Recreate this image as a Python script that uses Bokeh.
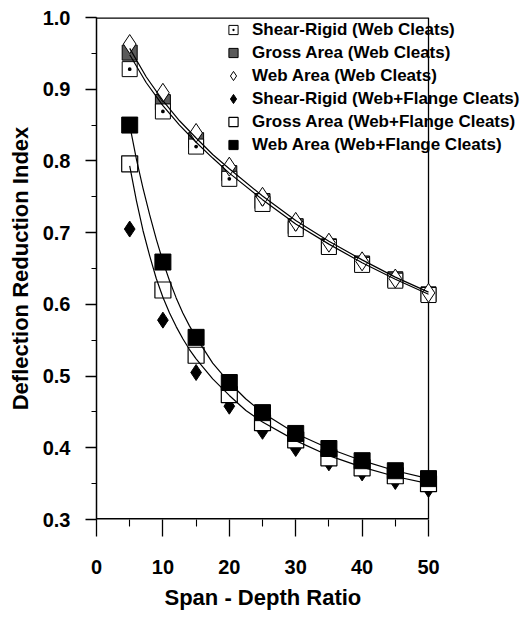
from bokeh.plotting import figure
from bokeh.models import (Legend, LegendItem, SingleIntervalTicker, FixedTicker,
                          NumeralTickFormatter, Range1d, Title)
from bokeh.embed import file_html
from bokeh.resources import INLINE

# ---- data ----
span_ratio = [5, 10, 15, 20, 25, 30, 35, 40, 45, 50]

shear_rigid_web = [0.928, 0.869, 0.820, 0.775, 0.740, 0.705, 0.680, 0.655, 0.633, 0.613]
gross_area_web = [0.951, 0.882, 0.829, 0.783, 0.744, 0.709, 0.681, 0.657, 0.635, 0.614]
web_area_web = [0.963, 0.895, 0.839, 0.792, 0.750, 0.715, 0.686, 0.660, 0.636, 0.616]

shear_rigid_wf = [0.705, 0.578, 0.505, 0.458, 0.423, 0.399, 0.379, 0.365, 0.353, 0.342]
gross_area_wf = [0.796, 0.620, 0.529, 0.474, 0.435, 0.411, 0.386, 0.372, 0.361, 0.350]
web_area_wf = [0.850, 0.659, 0.554, 0.491, 0.449, 0.420, 0.399, 0.382, 0.368, 0.357]

# fitted curves
fit_upper_x = [5, 7.5, 10, 12.5, 15, 17.5, 20, 25, 30, 35, 40, 45, 50]
fit_upper_a = [0.957, 0.917, 0.884, 0.856, 0.832, 0.809, 0.789, 0.751, 0.717, 0.688, 0.662, 0.638, 0.617]
fit_upper_b = [0.948, 0.909, 0.877, 0.850, 0.826, 0.804, 0.783, 0.746, 0.712, 0.684, 0.658, 0.635, 0.614]

fit_lower_x = [5, 6, 7, 8, 9, 10, 11, 12, 13, 14, 15, 17.5, 20, 22.5, 25, 30, 35, 40, 45, 50]
fit_web_wf = [0.850, 0.803, 0.762, 0.725, 0.691, 0.660, 0.633, 0.609, 0.588, 0.570, 0.554,
              0.518, 0.491, 0.468, 0.449, 0.420, 0.399, 0.382, 0.368, 0.357]
fit_gross_wf = [0.793, 0.745, 0.703, 0.668, 0.636, 0.610, 0.588, 0.569, 0.552, 0.537, 0.524,
                0.496, 0.473, 0.452, 0.436, 0.410, 0.389, 0.373, 0.360, 0.350]

x_ticks = [0, 10, 20, 30, 40, 50]
x_minor_ticks = [5, 15, 25, 35, 45]
x_min, x_max = 0, 50
y_min, y_max = 0.3, 1.0
x_label = "Span - Depth Ratio"
y_label = "Deflection Reduction Index"
FONT = "Liberation Sans"

# The drawing frame runs to the right edge of the page (so the legend and the
# markers at x=50 are not clipped); the visible box is drawn up to x=50.
p = figure(width=530, height=618, x_range=Range1d(x_min, 65.36), y_range=Range1d(y_min, y_max),
           output_backend="svg", toolbar_location=None,
           min_border_left=96, min_border_right=0, min_border_top=17, min_border_bottom=99)
p.background_fill_color = "white"
p.border_fill_color = "white"
p.xgrid.visible = False
p.ygrid.visible = False
p.outline_line_color = None

# frame box: bottom, top and right edges ending at x=50
p.segment(x0=[x_min, x_min, x_max], y0=[y_min, y_max, y_min],
          x1=[x_max, x_max, x_max], y1=[y_min, y_max, y_max],
          line_color="black", line_width=[3, 2.6, 1.3])

# upper group markers
r_gw = p.scatter(span_ratio, gross_area_web, marker="square", size=15, fill_color="#5a5a5a",
                 line_color="black", line_width=1)
r_sw = p.scatter(span_ratio, shear_rigid_web, marker="square_dot", size=15, fill_color="white",
                 line_color="black", line_width=1)
r_ww = p.scatter(span_ratio, web_area_web, marker="diamond", size=19, fill_color="white",
                 line_color="black", line_width=1)
p.line(fit_upper_x, fit_upper_a, line_color="black", line_width=1.2)
p.line(fit_upper_x, fit_upper_b, line_color="black", line_width=1.2)

# lower group markers
r_sf = p.scatter(span_ratio, shear_rigid_wf, marker="diamond", size=16, fill_color="black",
                 line_color="black")
r_gf = p.scatter(span_ratio, gross_area_wf, marker="square", size=16, fill_color="white",
                 line_color="black", line_width=1.2)
p.line(fit_lower_x, fit_gross_wf, line_color="black", line_width=1.2)
p.line(fit_lower_x, fit_web_wf, line_color="black", line_width=1.2)
r_wf = p.scatter(span_ratio, web_area_wf, marker="square", size=16, fill_color="black",
                 line_color="black")

# axes
p.xaxis.ticker = FixedTicker(ticks=x_ticks, minor_ticks=x_minor_ticks)
p.yaxis.ticker = SingleIntervalTicker(interval=0.1, num_minor_ticks=2)
p.yaxis.formatter = NumeralTickFormatter(format="0.0")
for ax in (p.xaxis[0], p.yaxis[0]):
    ax.axis_line_color = "black"
    ax.axis_line_width = 1.5
    ax.major_tick_line_color = "black"
    ax.minor_tick_line_color = "black"
    ax.major_tick_line_width = 1.3
    ax.minor_tick_line_width = 1.1
    ax.major_tick_in = 0
    ax.minor_tick_in = 0
    ax.major_label_text_font = FONT
    ax.major_label_text_font_style = "bold"
    ax.major_label_text_font_size = "20px"
    ax.major_label_text_color = "black"
    ax.axis_label_text_font = FONT
    ax.axis_label_text_font_style = "bold"
    ax.axis_label_text_font_size = "22px"
    ax.axis_label_text_color = "black"

p.xaxis.axis_line_color = None
p.xaxis.major_tick_out = 17
p.xaxis.minor_tick_out = 7
p.xaxis.major_label_standoff = 23

p.yaxis.major_tick_out = 11
p.yaxis.minor_tick_out = 5
p.yaxis.major_label_standoff = 15
p.yaxis.axis_label = y_label
p.yaxis.axis_label_standoff = 7

# x title centred under the 0-50 box (a below-title, shifted from the frame's left edge)
p.add_layout(Title(text=x_label, align="left", offset=68, text_font=FONT,
                   text_font_style="bold", text_font_size="22px", text_color="black",
                   standoff=12), "below")

legend = Legend(items=[
    LegendItem(label="Shear-Rigid (Web Cleats)", renderers=[r_sw]),
    LegendItem(label="Gross Area (Web Cleats)", renderers=[r_gw]),
    LegendItem(label="Web Area (Web Cleats)", renderers=[r_ww]),
    LegendItem(label="Shear-Rigid (Web+Flange Cleats)", renderers=[r_sf]),
    LegendItem(label="Gross Area (Web+Flange Cleats)", renderers=[r_gf]),
    LegendItem(label="Web Area (Web+Flange Cleats)", renderers=[r_wf]),
], location=(125, 363), padding=0, margin=0, spacing=0,
    glyph_width=24, glyph_height=23, label_height=23, label_standoff=7,
    border_line_color=None, background_fill_alpha=0,
    label_text_font=FONT, label_text_font_style="bold", label_text_font_size="17px",
    label_text_color="black")
p.add_layout(legend)

open("out.html", "w").write(file_html(p, INLINE))
